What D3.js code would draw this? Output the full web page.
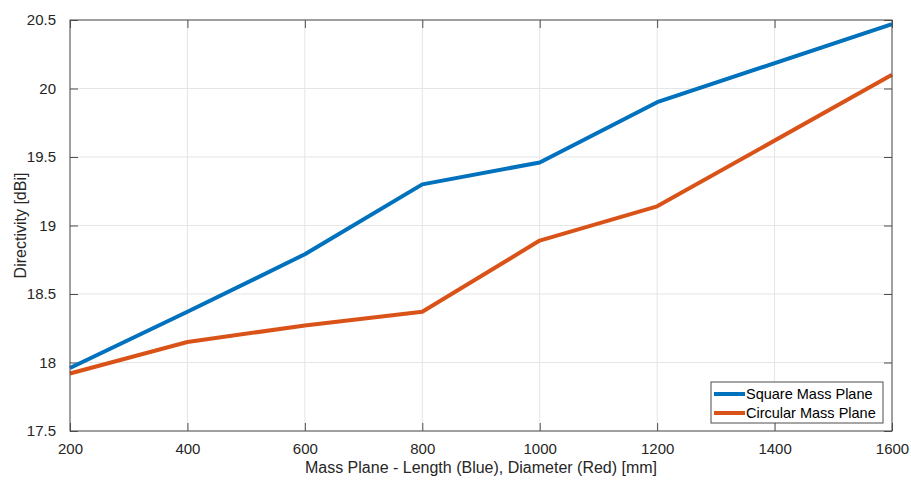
<!DOCTYPE html>
<html>
<head>
<meta charset="utf-8">
<script src="https://cdn.jsdelivr.net/npm/d3@7"></script>
<style>
  body { margin: 0; background: #fff; }
  text { font-family: "Liberation Sans", Arial, sans-serif; }
</style>
</head>
<body>
<svg id="chart" width="911" height="481"></svg>
<script>
// chart data
const lengths = [200, 400, 600, 800, 1000, 1200, 1600];
const squarePlane = [17.96, 18.37, 18.79, 19.30, 19.46, 19.90, 20.47];
const circularPlane = [17.92, 18.15, 18.27, 18.37, 18.89, 19.14, 20.10];
const xTicks = [200, 400, 600, 800, 1000, 1200, 1400, 1600];
const yTicks = [17.5, 18, 18.5, 19, 19.5, 20, 20.5];
const seriesNames = ["Square Mass Plane", "Circular Mass Plane"];

const svg = d3.select("#chart");
const margin = { left: 70, top: 20, right: 19, bottom: 50 };
const width = 911 - margin.left - margin.right;
const height = 481 - margin.top - margin.bottom;
const colors = ["#0072BD", "#D95319"];
const axisColor = "#4d4d4d";

const x = d3.scaleLinear().domain([200, 1600]).range([0, width]);
const y = d3.scaleLinear().domain([17.5, 20.5]).range([height, 0]);

const g = svg.append("g").attr("transform", `translate(${margin.left},${margin.top})`);

// grid
g.append("g")
  .selectAll("line.gx")
  .data(xTicks)
  .join("line")
  .attr("x1", d => x(d)).attr("x2", d => x(d))
  .attr("y1", 0).attr("y2", height)
  .attr("stroke", "#e5e5e5").attr("stroke-width", 1);
g.append("g")
  .selectAll("line.gy")
  .data(yTicks)
  .join("line")
  .attr("y1", d => y(d)).attr("y2", d => y(d))
  .attr("x1", 0).attr("x2", width)
  .attr("stroke", "#e5e5e5").attr("stroke-width", 1);

// axes with inward ticks
function styleAxis(sel) {
  sel.select(".domain").remove();
  sel.selectAll(".tick line").attr("stroke", axisColor);
  sel.selectAll(".tick text")
    .attr("fill", "#262626")
    .style("font-size", "15px");
}
g.append("g").attr("transform", `translate(0,${height})`)
  .call(d3.axisBottom(x).tickValues(xTicks).tickFormat(d3.format("")).tickSizeInner(-8).tickPadding(12))
  .call(styleAxis);
g.append("g")
  .call(d3.axisLeft(y).tickValues(yTicks).tickFormat(d3.format("")).tickSizeInner(-8).tickPadding(14))
  .call(styleAxis);
g.append("g")
  .call(d3.axisTop(x).tickValues(xTicks).tickSizeInner(-8).tickFormat(""))
  .call(styleAxis);
g.append("g").attr("transform", `translate(${width},0)`)
  .call(d3.axisRight(y).tickValues(yTicks).tickSizeInner(-8).tickFormat(""))
  .call(styleAxis);

// lines
const line = d3.line().x((d, i) => x(lengths[i])).y(d => y(d));
[squarePlane, circularPlane].forEach((s, k) => {
  g.append("path")
    .datum(s)
    .attr("d", line)
    .attr("fill", "none")
    .attr("stroke", colors[k])
    .attr("stroke-width", 4)
    .attr("stroke-linejoin", "round");
});

// box
g.append("rect")
  .attr("width", width).attr("height", height)
  .attr("fill", "none").attr("stroke", axisColor).attr("stroke-width", 1);

// labels
svg.append("text")
  .attr("x", margin.left + width / 2).attr("y", 473)
  .attr("text-anchor", "middle")
  .attr("fill", "#262626")
  .style("font-size", "16px")
  .text("Mass Plane - Length (Blue), Diameter (Red) [mm]");
svg.append("text")
  .attr("transform", `translate(26,${margin.top + height / 2}) rotate(-90)`)
  .attr("text-anchor", "middle")
  .attr("fill", "#262626")
  .style("font-size", "16px")
  .text("Directivity [dBi]");

// legend
const lg = svg.append("g").attr("transform", "translate(711,382)");
lg.append("rect")
  .attr("width", 172).attr("height", 41)
  .attr("fill", "#fff").attr("stroke", axisColor).attr("stroke-width", 1);
seriesNames.forEach((name, k) => {
  const yy = 12 + k * 19;
  lg.append("line")
    .attr("x1", 3).attr("x2", 34).attr("y1", yy).attr("y2", yy)
    .attr("stroke", colors[k]).attr("stroke-width", 4);
  lg.append("text")
    .attr("x", 35).attr("y", yy + 5)
    .attr("fill", "#000")
    .style("font-size", "14.5px")
    .text(name);
});
</script>
</body>
</html>
